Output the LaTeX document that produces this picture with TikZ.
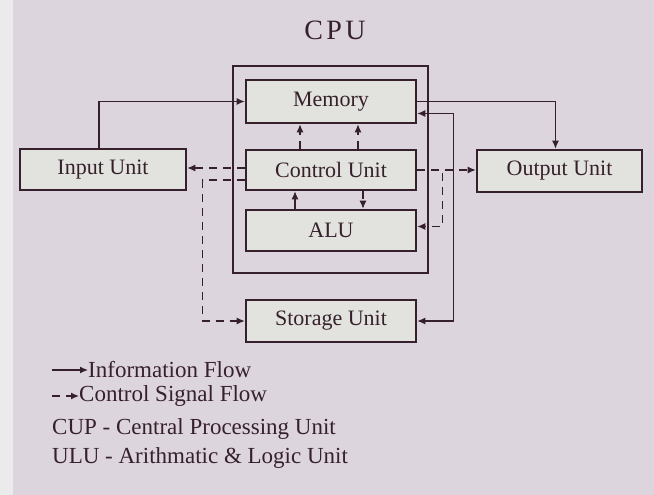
\documentclass[tikz,border=0pt]{standalone}
\usepackage{fontspec}
\setmainfont{Liberation Serif}
\usepackage{tikz}
\usetikzlibrary{arrows.meta, positioning, calc}
\usepackage{xcolor}
\definecolor{ink}{HTML}{36202C}
\definecolor{paper}{HTML}{DDD5DD}
\definecolor{boxfill}{HTML}{E2E3DE}
\definecolor{strip}{HTML}{ECEBEC}
\newcommand{\labelfont}{\fontsize{22}{25}\selectfont}
\newcommand{\legendfont}{\fontsize{23}{26}\selectfont}
\tikzset{
  unit/.style={rectangle, draw=ink, line width=2.6pt, fill=boxfill,
               text=ink, font=\labelfont, inner sep=0pt},
  info/.style={-{Latex[length=8pt,width=7pt]}, draw=ink, line width=1.2pt},
  infoboth/.style={{Latex[length=8pt,width=7pt]}-{Latex[length=8pt,width=7pt]},
                   draw=ink, line width=1.2pt},
  ctrl/.style={info, dash pattern=on 8pt off 6pt},
  legend/.style={text=ink, font=\legendfont, inner sep=0pt, anchor=west},
}

\begin{document}
\begin{tikzpicture}[x=1pt, y=-1pt]
  %% Background
  \fill[paper] (0,0) rectangle (654,495);
  \fill[strip] (0,0) rectangle (13,495);
  \useasboundingbox (0,0) rectangle (654,495);

  %% Title
  \node[text=ink, font=\fontsize{28}{31}\selectfont\addfontfeature{LetterSpace=12}]
    (title) at (335,30) {CPU};

  %% CPU frame and its units
  \node[unit, fill=none, minimum width=195pt, minimum height=207pt]
    (cpu) at (330.5,169.5) {};
  \node[unit, minimum width=170pt, minimum height=43pt] (mem) at (331,101.5) {Memory};
  \node[unit, minimum width=170pt, minimum height=40pt] (cu) at (331,170) {Control Unit};
  \node[unit, minimum width=170pt, minimum height=41pt] (alu) at (331,230.5) {ALU};

  %% Outside units
  \node[unit, minimum width=166pt, minimum height=41pt] (inp) at (103,169.5) {Input Unit};
  \node[unit, minimum width=165pt, minimum height=42pt] (out) at (559.5,171) {Output Unit};
  \node[unit, minimum width=170pt, minimum height=42pt] (sto) at (331,321) {Storage Unit};

  %% Information flow
  \draw[info] ([xshift=-4pt]inp.north) |- (mem.west);
  \draw[info] (mem.east) -| ([xshift=-4pt]out.north);
  \draw[infoboth] ([yshift=-12pt]mem.east) -- ++(36,0) |- (sto.east);
  \draw[info] ([xshift=-36pt]alu.north) -- ([xshift=-36pt]cu.south);

  %% Control signals
  \draw[ctrl] (cu.east) -- (cu.east -| out.west);
  \draw[ctrl] (cu.east) -- ++(25,0) |- ([yshift=4pt]alu.east);
  \draw[ctrl] ([xshift=-31pt]cu.north) -- ([xshift=-31pt]mem.south);
  \draw[ctrl] ([xshift=27pt]cu.north) -- ([xshift=27pt]mem.south);
  \draw[ctrl] ([xshift=32pt]cu.south) -- ([xshift=32pt]alu.north);
  \draw[ctrl] ([yshift=2pt]cu.west) -- ([yshift=2pt]cu.west -| inp.east);
  \draw[ctrl] ([yshift=-10pt]cu.west) -- ++(-42,0) |- (sto.west);

  %% Legend
  \node[legend] (lgInfo) at (88,370) {Information Flow};
  \node[legend] (lgCtrl) at (79,396) {Control Signal Flow};
  \node[legend] (lgCup) at (52,429) {CUP - Central Processing Unit};
  \node[legend] (lgUlu) at (52,458) {ULU - Arithmatic \& Logic Unit};
  \draw[info] ([xshift=-36pt]lgInfo.west) -- (lgInfo.west);
  \draw[ctrl] ([xshift=-27pt]lgCtrl.west) -- (lgCtrl.west);

\end{tikzpicture}
\end{document}
